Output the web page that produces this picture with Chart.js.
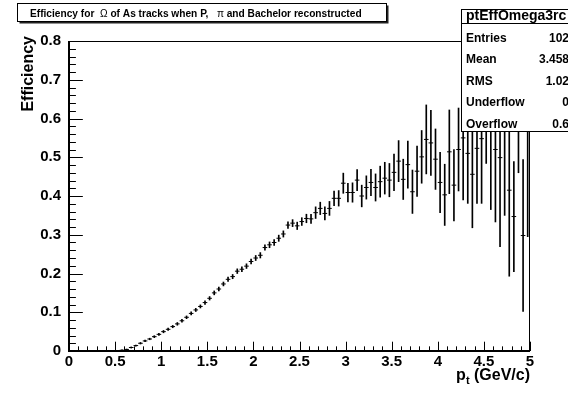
<!DOCTYPE html>
<html>
<head>
<meta charset="utf-8">
<script src="https://cdn.jsdelivr.net/npm/chart.js@4.4.1/dist/chart.umd.min.js"></script>
<style>
  html, body { margin: 0; padding: 0; background: #fff; }
  #wrap { width: 568px; height: 394px; position: relative; }
</style>
</head>
<body>
<div id="wrap"><canvas id="chartjs-canvas"></canvas></div>
<script>
// 100 bins between 0 and 5 GeV/c
const binLow = 0;
const binHigh = 5;
const nBins = 100;

const efficiency = [
  0, 0, 0, 0, 0, 0, 0, 0, 0, 0,
  0.0005, 0.002, 0.004, 0.009, 0.014, 0.02, 0.026, 0.031, 0.037, 0.043,
  0.05, 0.056, 0.063, 0.07, 0.078, 0.087, 0.097, 0.106, 0.115, 0.125,
  0.136, 0.15, 0.16, 0.173, 0.185, 0.192, 0.206, 0.211, 0.219, 0.231,
  0.24, 0.247, 0.267, 0.274, 0.28, 0.291, 0.302, 0.325, 0.33, 0.323,
  0.334, 0.342, 0.341, 0.357, 0.368, 0.355, 0.368, 0.394, 0.394, 0.433,
  0.409, 0.409, 0.441, 0.4, 0.422, 0.435, 0.422, 0.437, 0.446, 0.441,
  0.461, 0.49, 0.443, 0.481, 0.411, 0.464, 0.501, 0.546, 0.537, 0.495,
  0.435, 0.403, 0.514, 0.428, 0.52, 0.55, 0.51, 0.456, 0.523, 0.548,
  0.6, 0.6, 0.52, 0.499, 0.6, 0.415, 0.347, 0.6, 0.298, 0.6
];

const efficiencyErr = [
  0, 0, 0, 0, 0, 0, 0, 0, 0, 0,
  0.0005, 0.001, 0.001, 0.0015, 0.0015, 0.002, 0.002, 0.002, 0.0025, 0.0025,
  0.003, 0.003, 0.003, 0.0035, 0.0035, 0.0035, 0.004, 0.004, 0.004, 0.0045,
  0.0045, 0.005, 0.005, 0.005, 0.0055, 0.0055, 0.006, 0.006, 0.006, 0.0065,
  0.0065, 0.007, 0.007, 0.0075, 0.0075, 0.008, 0.008, 0.0085, 0.009, 0.0095,
  0.01, 0.011, 0.012, 0.015, 0.016, 0.017, 0.018, 0.019, 0.02, 0.026,
  0.024, 0.025, 0.027, 0.028, 0.03, 0.034, 0.035, 0.04, 0.041, 0.043,
  0.047, 0.053, 0.052, 0.061, 0.056, 0.065, 0.068, 0.089, 0.084, 0.078,
  0.078, 0.079, 0.108, 0.092, 0.107, 0.16, 0.129, 0.138, 0.142, 0.167,
  0.116, 0.235, 0.187, 0.23, 0.25, 0.222, 0.142, 0.14, 0.196, 0.305
];

const xTickLabels = ['0', '0.5', '1', '1.5', '2', '2.5', '3', '3.5', '4', '4.5', '5'];
const yTickLabels = ['0', '0.1', '0.2', '0.3', '0.4', '0.5', '0.6', '0.7', '0.8'];

const statsName = 'ptEffOmega3rc';
const statsLabels = ['Entries', 'Mean', 'RMS', 'Underflow', 'Overflow'];
const statsValues = ['102', '3.458', '1.02', '0', '0.6'];

const titleParts = [
  { text: 'Efficiency for  ', bold: true },
  { text: '\u03A9', bold: false },
  { text: ' of As tracks when P,   ', bold: true },
  { text: '\u03C0', bold: false },
  { text: ' and Bachelor reconstructed', bold: true }
];

const FONT = '"Liberation Sans", Arial, Helvetica, sans-serif';

// build chart data from the arrays
const binWidth = (binHigh - binLow) / nBins;
const centers = efficiency.map((v, i) => binLow + (i + 0.5) * binWidth);
const markerPoints = efficiency.map((v, i) => ({ x: centers[i], y: v }));
const errorBars = efficiency.map((v, i) => ({ x: centers[i], y: [v - efficiencyErr[i], v + efficiencyErr[i]] }));

// frame, inward ticks, title pave, stats box, axis titles (ROOT look)
const rootDecor = {
  id: 'rootDecor',
  afterDraw(chart) {
    const { ctx, chartArea: a, scales: { x, y } } = chart;
    ctx.save();
    ctx.strokeStyle = '#000';
    ctx.fillStyle = '#000';

    // frame top / right
    ctx.lineWidth = 1;
    ctx.beginPath();
    ctx.moveTo(a.left, a.top + 0.5); ctx.lineTo(a.right, a.top + 0.5);
    ctx.moveTo(a.right - 0.5, a.top); ctx.lineTo(a.right - 0.5, a.bottom);
    ctx.stroke();

    // axes
    ctx.lineWidth = 2;
    ctx.beginPath();
    ctx.moveTo(a.left, a.top); ctx.lineTo(a.left, a.bottom + 1);
    ctx.moveTo(a.left - 1, a.bottom); ctx.lineTo(a.right, a.bottom);
    ctx.stroke();

    // y ticks (inward)
    ctx.lineWidth = 1;
    const yMajor = 0.03 * (a.right - a.left);
    ctx.beginPath();
    for (let k = 0; k <= 40; k++) {
      const v = k * 0.02;
      const py = Math.round(y.getPixelForValue(v)) + 0.5;
      const len = (k % 5 === 0) ? yMajor : yMajor / 2;
      ctx.moveTo(a.left, py); ctx.lineTo(a.left + len, py);
    }
    // x ticks (inward)
    const xMajor = 0.03 * (a.bottom - a.top);
    for (let k = 0; k <= 50; k++) {
      const v = k * 0.1;
      const px = Math.round(x.getPixelForValue(v)) + 0.5;
      const len = (k % 5 === 0) ? xMajor : xMajor / 2;
      ctx.moveTo(px, a.bottom); ctx.lineTo(px, a.bottom - len);
    }
    ctx.stroke();

    // title pave with shadow
    const tb = { l: 17.5, t: 3.5, r: 386.5, b: 21.5 };
    ctx.fillStyle = '#222';
    ctx.fillRect(tb.l + 2, tb.t + 2, tb.r - tb.l, tb.b - tb.t);
    ctx.fillStyle = '#fff';
    ctx.fillRect(tb.l, tb.t, tb.r - tb.l, tb.b - tb.t);
    ctx.strokeRect(tb.l, tb.t, tb.r - tb.l, tb.b - tb.t);

    let size = 11;
    const measure = (s) => titleParts.reduce((w, p) => {
      ctx.font = (p.bold ? 'bold ' : '') + s + 'px ' + FONT;
      return w + ctx.measureText(p.text).width;
    }, 0);
    size = size * 332 / measure(size);
    let tx = 30;
    ctx.fillStyle = '#000';
    ctx.textBaseline = 'alphabetic';
    ctx.textAlign = 'left';
    titleParts.forEach(p => {
      ctx.font = (p.bold ? 'bold ' : '') + size.toFixed(2) + 'px ' + FONT;
      ctx.fillText(p.text, tx, 17);
      tx += ctx.measureText(p.text).width;
    });

    // stats box
    const sb = { l: 461.5, t: 9.5, r: 600, b: 131.5 };
    ctx.fillStyle = '#fff';
    ctx.fillRect(sb.l, sb.t, sb.r - sb.l, sb.b - sb.t);
    ctx.strokeRect(sb.l, sb.t, sb.r - sb.l, sb.b - sb.t);
    ctx.beginPath();
    ctx.moveTo(sb.l, 23.5); ctx.lineTo(sb.r, 23.5);
    ctx.stroke();
    ctx.fillStyle = '#000';
    ctx.font = 'bold 14px ' + FONT;
    ctx.fillText(statsName, 466, 20);
    ctx.font = 'bold 12px ' + FONT;
    const rowBase = [41.5, 63, 85, 106, 127.5];
    statsLabels.forEach((lab, i) => {
      ctx.textAlign = 'left';
      ctx.fillText(lab, 466, rowBase[i]);
      ctx.textAlign = 'right';
      ctx.fillText(statsValues[i], 569, rowBase[i]);
    });

    // y axis title
    ctx.save();
    ctx.translate(33, 36);
    ctx.rotate(-Math.PI / 2);
    ctx.textAlign = 'right';
    ctx.font = 'bold 16px ' + FONT;
    ctx.fillText('Efficiency', 0, 0);
    ctx.restore();

    // x axis title p_t (GeV/c)
    ctx.textAlign = 'left';
    ctx.font = 'bold 16px ' + FONT;
    const wp = ctx.measureText('p').width;
    const wRest = ctx.measureText(' (GeV/c)').width;
    ctx.font = 'bold 11px ' + FONT;
    const wt = ctx.measureText('t').width;
    let px = a.right - (wp + wt + wRest);
    ctx.font = 'bold 16px ' + FONT;
    ctx.fillText('p', px, 380);
    px += wp;
    ctx.font = 'bold 11px ' + FONT;
    ctx.fillText('t', px, 384);
    px += wt;
    ctx.font = 'bold 16px ' + FONT;
    ctx.fillText(' (GeV/c)', px, 380);

    ctx.restore();
  }
};

const ctx = document.getElementById('chartjs-canvas').getContext('2d');
const chart = new Chart(ctx, {
  type: 'bar',
  data: {
    datasets: [
      {
        type: 'line',
        data: markerPoints,
        showLine: false,
        pointStyle: 'line',
        pointRadius: 2.3,
        pointBorderWidth: 1,
        pointBorderColor: '#000',
        borderColor: '#000'
      },
      {
        type: 'bar',
        data: errorBars,
        backgroundColor: '#000',
        borderWidth: 0,
        barThickness: 1,
        grouped: false
      }
    ]
  },
  options: {
    responsive: true,
    maintainAspectRatio: false,
    animation: false,
    devicePixelRatio: 1,
    layout: { padding: { left: 0, right: 38, top: 41, bottom: 0 } },
    plugins: {
      legend: { display: false },
      tooltip: { enabled: false },
      title: { display: false }
    },
    scales: {
      x: {
        type: 'linear',
        min: 0,
        max: 5,
        offset: false,
        grid: { display: false, drawTicks: false },
        border: { display: false },
        ticks: {
          stepSize: 0.5,
          padding: 2,
          color: '#000',
          maxRotation: 0,
          autoSkip: false,
          font: { family: FONT, size: 15, weight: 'bold' },
          callback: (value, index) => xTickLabels[index]
        },
        afterFit: (scale) => { scale.height = 43; }
      },
      y: {
        min: 0,
        max: 0.8,
        grid: { display: false, drawTicks: false },
        border: { display: false },
        ticks: {
          stepSize: 0.1,
          padding: 8,
          color: '#000',
          autoSkip: false,
          font: { family: FONT, size: 15, weight: 'bold' },
          callback: (value, index) => yTickLabels[index]
        },
        afterFit: (scale) => { scale.width = 69; }
      }
    }
  },
  plugins: [rootDecor]
});
</script>
</body>
</html>
